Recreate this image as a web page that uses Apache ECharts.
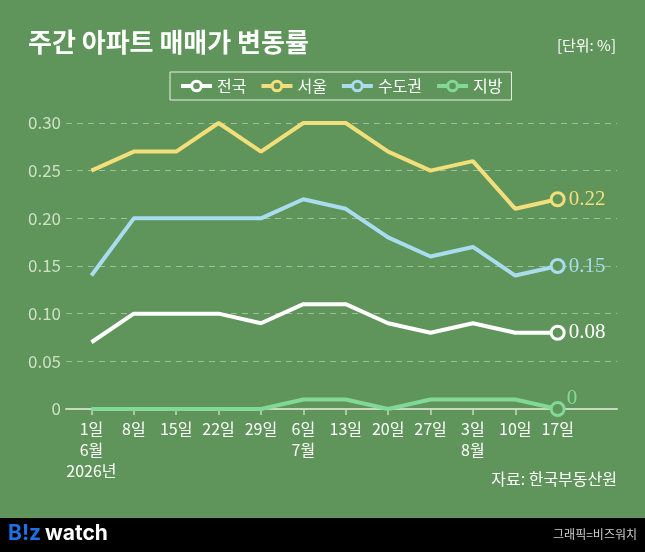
<!DOCTYPE html>
<html>
<head>
<meta charset="utf-8">
<script src="https://cdn.jsdelivr.net/npm/echarts@6/dist/echarts.min.js"></script>
<style>
html,body{margin:0;padding:0;background:#5f955a;}
#c{width:645px;height:552px;}
</style>
</head>
<body>
<div id="c"></div>
<script>
const days = ['1일','8일','15일','22일','29일','6일','13일','20일','27일','3일','10일','17일'];
const months = ['6월','','','','','7월','','','','8월','',''];
const years = ['2026년','','','','','','','','','','',''];
const yTicks = [0, 0.05, 0.10, 0.15, 0.20, 0.25, 0.30];

const seriesNames = ['전국','서울','수도권','지방'];
const national = [0.07,0.10,0.10,0.10,0.09,0.11,0.11,0.09,0.08,0.09,0.08,0.08];
const seoul    = [0.25,0.27,0.27,0.30,0.27,0.30,0.30,0.27,0.25,0.26,0.21,0.22];
const capital  = [0.14,0.20,0.20,0.20,0.20,0.22,0.21,0.18,0.16,0.17,0.14,0.15];
const regions  = [0,0,0,0,0,0.01,0.01,0,0.01,0.01,0.01,0];

const BG = '#5f955a';
const colors = ['#ffffff','#f2df7b','#a9dcef','#82d897'];
const FONT = '"Noto Sans CJK KR", "Noto Sans", sans-serif';

function fmt(v){ return v === 0 ? '0' : v.toFixed(2); }

function mk(name, vals, color, labelOffset){
  const last = vals.length - 1;
  return {
    name: name,
    type: 'line',
    symbol: 'circle',
    symbolSize: 13,
    showSymbol: true,
    itemStyle: { color: BG, borderColor: color, borderWidth: 3 },
    lineStyle: { color: color, width: 4 },
    z: 3,
    data: vals.map((v, i) => i === last ? {
      value: [i, v],
      label: {
        show: true, position: 'right', distance: 3, offset: labelOffset,
        formatter: p => fmt(p.value[1]),
        color: color, fontSize: 21, fontFamily: '"Liberation Serif", "DejaVu Serif", serif'
      }
    } : { value: [i, v], symbol: 'none' })
  };
}

const chart = echarts.init(document.getElementById('c'), null, {renderer: 'canvas'});
chart.setOption({
  animation: false,
  backgroundColor: BG,
  textStyle: { fontFamily: FONT },
  grid: { left: 66, right: 28, top: 123, bottom: 143 },
  legend: {
    left: 170, top: 72,
    padding: [6, 9],
    itemWidth: 31, itemHeight: 12, itemGap: 13,
    borderColor: 'rgba(255,255,255,0.85)', borderWidth: 1,
    lineStyle: { width: 4 },
    itemStyle: { borderWidth: 3 },
    textStyle: { color: '#ffffff', fontSize: 16, fontFamily: FONT },
    data: seriesNames
  },
  xAxis: {
    type: 'value',
    min: -0.6, max: 12.4,
    splitLine: { show: false },
    axisLine: { show: true, lineStyle: { color: '#c9d9c1', width: 2 } },
    axisTick: { show: true, length: 6, lineStyle: { color: '#c9d9c1', width: 1.5 }, customValues: days.map((d, i) => i) },
    axisLabel: {
      customValues: days.map((d, i) => i),
      margin: 9,
      color: '#ffffff', fontSize: 16, lineHeight: 21, fontFamily: FONT,
      formatter: v => {
        const i = Math.round(v);
        return [days[i], months[i], years[i]].filter(s => s).join('\n');
      }
    }
  },
  yAxis: {
    type: 'value',
    min: 0, max: 0.3, interval: 0.05,
    axisLine: { show: false },
    axisTick: { show: false },
    splitLine: { show: true, lineStyle: { color: 'rgba(255,255,255,0.4)', type: [6, 5], width: 1 } },
    axisLabel: {
      margin: 5, color: '#cde0c6', fontSize: 17, fontFamily: FONT,
      formatter: v => fmt(v)
    }
  },
  series: [
    mk(seriesNames[0], national, colors[0], [0, 0]),
    mk(seriesNames[1], seoul, colors[1], [0, 0]),
    mk(seriesNames[2], capital, colors[2], [0, 0]),
    mk(seriesNames[3], regions, colors[3], [-2, -11])
  ],
  graphic: [
    { type: 'text', left: 28, top: 29, style: { text: '주간 아파트 매매가 변동률', fill: '#ffffff', font: 'bold 26px ' + FONT } },
    { type: 'text', right: 29, top: 38, style: { text: '[단위: %]', fill: '#ffffff', font: '15px ' + FONT } },
    { type: 'text', right: 28, top: 471, style: { text: '자료: 한국부동산원', fill: '#ffffff', font: '16px ' + FONT } },
    { type: 'rect', left: 0, top: 518, shape: { width: 645, height: 34 }, style: { fill: '#000000' } },
    { type: 'text', left: 8, top: 523, style: { text: 'B!z', fill: '#1f6fe5', font: 'bold 21px Inter, Roboto, sans-serif' } },
    { type: 'text', left: 45, top: 523, style: { text: 'watch', fill: '#ffffff', font: 'bold 21px Inter, Roboto, sans-serif' } },
    { type: 'text', right: 8, top: 528, style: { text: '그래픽=비즈워치', fill: '#cfcfcf', font: '12px ' + FONT } }
  ]
});
</script>
</body>
</html>
